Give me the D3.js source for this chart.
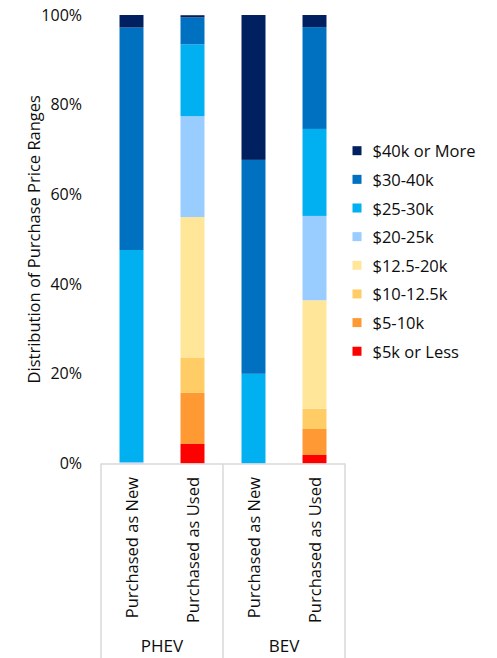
<!DOCTYPE html>
<html>
<head>
<meta charset="utf-8">
<script src="https://cdn.jsdelivr.net/npm/d3@7"></script>
<style>
  body { margin: 0; background: #fff; }
  svg text { font-family: "Open Sans", sans-serif; fill: #0d0d0d; }
</style>
</head>
<body>
<svg width="497" height="658"></svg>
<script>
// price ranges, bottom of stack first
const ranges = ["$5k or Less", "$5-10k", "$10-12.5k", "$12.5-20k", "$20-25k", "$25-30k", "$30-40k", "$40k or More"]
const colors = ["#ff0000", "#ff9933", "#ffcc66", "#ffe699", "#99ccff", "#00b0f0", "#0070c0", "#002060"]

const groups = ["PHEV", "BEV"]
const bars = ["Purchased as New", "Purchased as Used"]

// share in % for each range, same order as ranges
const phevNew  = [0, 0, 0, 0, 0.3, 47.3, 49.6, 2.8]
const phevUsed = [4.35, 11.4, 7.9, 31.3, 22.5, 16.0, 6.0, 0.5]
const bevNew   = [0, 0, 0, 0, 0, 20.0, 47.7, 32.3]
const bevUsed  = [1.9, 5.8, 4.5, 24.2, 18.8, 19.4, 22.7, 2.7]

const yTicks = [0, 20, 40, 60, 80, 100]

const columns = [
    { group: "PHEV", bar: bars[0], values: phevNew },
    { group: "PHEV", bar: bars[1], values: phevUsed },
    { group: "BEV", bar: bars[0], values: bevNew },
    { group: "BEV", bar: bars[1], values: bevUsed }
]
columns.forEach(c => { c.key = c.group + "|" + c.bar })

const table = columns.map(c => {
    const row = { key: c.key }
    ranges.forEach((r, i) => { row[r] = c.values[i] })
    return row
})

const svg = d3.select("svg")

const plotLeft = 101, plotRight = 345, plotTop = 15, plotBottom = 463.5

const x = d3.scaleBand()
    .domain(columns.map(c => c.key))
    .range([plotLeft, plotRight])
    .paddingInner(0.607)
    .paddingOuter(0.3035)

const xGroup = d3.scaleBand()
    .domain(groups)
    .range([plotLeft, plotRight])

const y = d3.scaleLinear()
    .domain([0, 100])
    .range([plotBottom, plotTop])

const color = d3.scaleOrdinal()
    .domain(ranges)
    .range(colors)

const series = d3.stack().keys(ranges)(table)

// y axis labels (no line)
const yAxis = svg.append("g")
    .attr("transform", `translate(${plotLeft}, 0)`)
    .call(d3.axisLeft(y).tickValues(yTicks).tickFormat(d => d + "%").tickSize(0).tickPadding(19))
yAxis.select(".domain").remove()
yAxis.selectAll("text")
    .style("font-size", "16px")
    .attr("fill", null)

svg.append("text")
    .attr("transform", `translate(33, ${(plotTop + plotBottom) / 2}) rotate(-90)`)
    .attr("text-anchor", "middle")
    .attr("dominant-baseline", "central")
    .style("font-size", "16.5px")
    .text("Distribution of Purchase Price Ranges")

// bars
svg.selectAll("g.layer")
    .data(series)
    .enter()
    .append("g")
    .attr("class", "layer")
    .attr("fill", d => color(d.key))
    .selectAll("rect")
    .data(d => d)
    .enter()
    .append("rect")
    .attr("x", d => x(d.data.key))
    .attr("width", x.bandwidth())
    .attr("y", d => y(d[1]))
    .attr("height", d => y(d[0]) - y(d[1]))

// category axis box
const axisG = svg.append("g").attr("stroke", "#d9d9d9").attr("stroke-width", 1.5)
axisG.append("line")
    .attr("x1", plotLeft).attr("x2", plotRight)
    .attr("y1", plotBottom + 0.5).attr("y2", plotBottom + 0.5)
axisG.selectAll("line.div")
    .data([plotLeft, ...groups.map(g => xGroup(g) + xGroup.bandwidth())])
    .enter()
    .append("line")
    .attr("class", "div")
    .attr("x1", d => d).attr("x2", d => d)
    .attr("y1", plotBottom).attr("y2", 658)

svg.selectAll("text.cat")
    .data(columns)
    .enter()
    .append("text")
    .attr("class", "cat")
    .attr("transform", d => `translate(${x(d.key) + x.bandwidth() / 2}, 477) rotate(-90)`)
    .attr("text-anchor", "end")
    .attr("dominant-baseline", "central")
    .style("font-size", "16.5px")
    .text(d => d.bar)

svg.selectAll("text.group")
    .data(groups)
    .enter()
    .append("text")
    .attr("class", "group")
    .attr("x", d => xGroup(d) + xGroup.bandwidth() / 2)
    .attr("y", 652)
    .attr("text-anchor", "middle")
    .style("font-size", "17px")
    .text(d => d)

// legend, top item = last range
const legend = svg.selectAll("g.legend")
    .data(ranges.slice().reverse())
    .enter()
    .append("g")
    .attr("class", "legend")
    .attr("transform", (d, i) => `translate(352.5, ${150.7 + i * 28.65})`)

legend.append("rect")
    .attr("x", 0)
    .attr("y", -4.5)
    .attr("width", 9)
    .attr("height", 9)
    .attr("fill", d => color(d))

legend.append("text")
    .attr("x", 20)
    .attr("y", 0)
    .attr("dominant-baseline", "central")
    .style("font-size", "16.5px")
    .text(d => d)
</script>
</body>
</html>
